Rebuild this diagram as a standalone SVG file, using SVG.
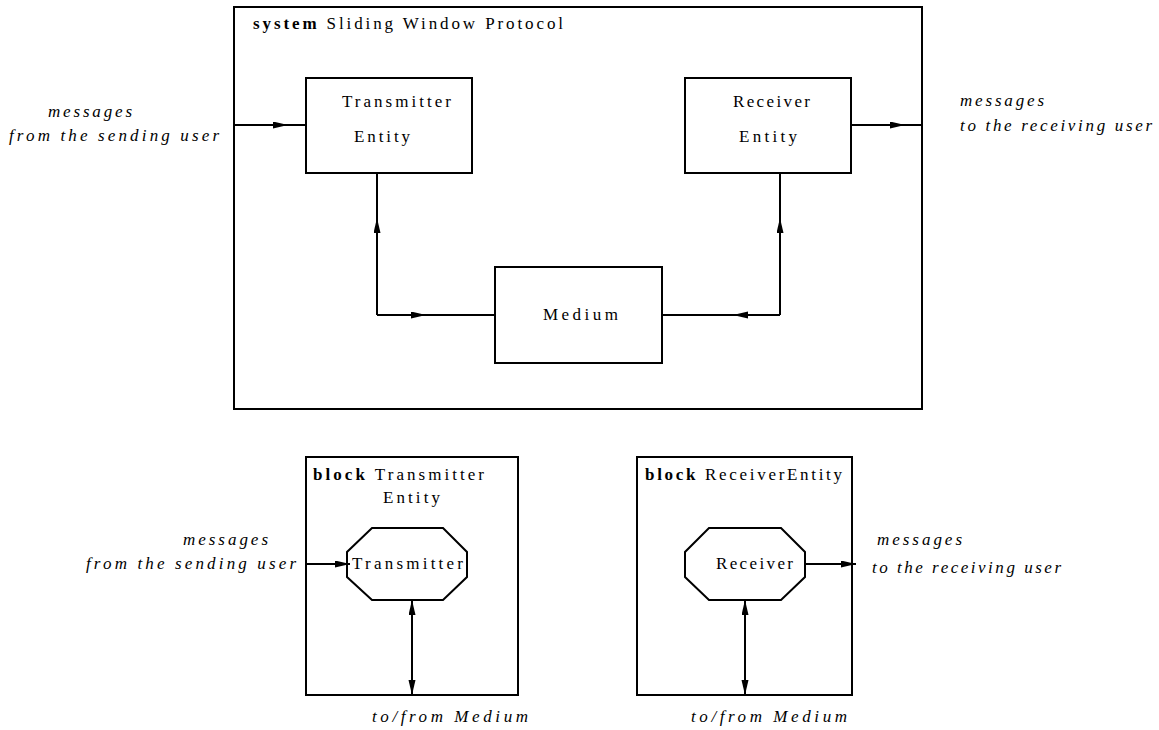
<svg xmlns="http://www.w3.org/2000/svg" width="1159" height="730" viewBox="0 0 1159 730">
<style>
.box{fill:#fff;stroke:#000;stroke-width:2}
.ln{fill:none;stroke:#000;stroke-width:2}
.t{font-family:"Liberation Serif","DejaVu Serif",serif;font-size:17px;fill:#000}
.i{font-style:italic}
.b{font-weight:bold}
</style>
<defs>
<marker id="ah" markerUnits="userSpaceOnUse" markerWidth="16" markerHeight="8" refX="15" refY="3.5" orient="auto-start-reverse">
<path d="M0,0 L15,3.5 L0,7 Z" fill="#000"/>
</marker>
</defs>
<rect width="1159" height="730" fill="#fff"/>

<g id="system">
<rect class="box" x="234" y="7" width="688" height="402"/>
<text class="t" x="253" y="29" textLength="310" lengthAdjust="spacing"><tspan class="b">system</tspan> Sliding Window Protocol</text>
</g>

<g id="transmitter-entity">
<rect class="box" x="306" y="78" width="166" height="95"/>
<text class="t" x="342" y="107" textLength="109" lengthAdjust="spacing">Transmitter</text>
<text class="t" x="354" y="142" textLength="56" lengthAdjust="spacing">Entity</text>
</g>

<g id="receiver-entity">
<rect class="box" x="685" y="78" width="166" height="95"/>
<text class="t" x="733" y="107" textLength="77" lengthAdjust="spacing">Receiver</text>
<text class="t" x="739" y="142" textLength="58" lengthAdjust="spacing">Entity</text>
</g>

<g id="medium">
<rect class="box" x="495" y="267" width="167" height="96"/>
<text class="t" x="543" y="320" textLength="75" lengthAdjust="spacing">Medium</text>
</g>

<g id="block-transmitter">
<rect class="box" x="306" y="457" width="212" height="238"/>
<text class="t" x="313" y="480" textLength="171" lengthAdjust="spacing"><tspan class="b">block</tspan> Transmitter</text>
<text class="t" x="383" y="503" textLength="57" lengthAdjust="spacing">Entity</text>
</g>

<g id="transmitter">
<polygon class="box" points="372,528 443,528 467,552 467,577 443,600 372,600 347,577 347,552"/>
<text class="t" x="352" y="569" textLength="111" lengthAdjust="spacing">Transmitter</text>
</g>

<g id="block-receiver">
<rect class="box" x="637" y="457" width="215" height="238"/>
<text class="t" x="645" y="480" textLength="197" lengthAdjust="spacing"><tspan class="b">block</tspan> ReceiverEntity</text>
</g>

<g id="receiver">
<polygon class="box" points="709,528 781,528 805,552 805,577 781,600 709,600 685,577 685,552"/>
<text class="t" x="716" y="569" textLength="77" lengthAdjust="spacing">Receiver</text>
</g>

<g id="labels">
<text class="t i" x="48" y="117" textLength="84" lengthAdjust="spacing">messages</text>
<text class="t i" x="9" y="141" textLength="210" lengthAdjust="spacing">from the sending user</text>
<text class="t i" x="960" y="106" textLength="84" lengthAdjust="spacing">messages</text>
<text class="t i" x="960" y="131" textLength="192" lengthAdjust="spacing">to the receiving user</text>
<text class="t i" x="183" y="545" textLength="85" lengthAdjust="spacing">messages</text>
<text class="t i" x="86" y="569" textLength="210" lengthAdjust="spacing">from the sending user</text>
<text class="t i" x="877" y="545" textLength="85" lengthAdjust="spacing">messages</text>
<text class="t i" x="872" y="573" textLength="189" lengthAdjust="spacing">to the receiving user</text>
<text class="t i" x="372" y="722" textLength="156" lengthAdjust="spacing">to/from Medium</text>
<text class="t i" x="691" y="722" textLength="156" lengthAdjust="spacing">to/from Medium</text>
</g>

<g id="connectors">
<line class="ln" x1="234" y1="125" x2="288" y2="125" marker-end="url(#ah)"/>
<line class="ln" x1="288" y1="125" x2="306" y2="125"/>
<line class="ln" x1="851" y1="125" x2="905" y2="125" marker-end="url(#ah)"/>
<line class="ln" x1="905" y1="125" x2="922" y2="125"/>
<line class="ln" x1="377" y1="315" x2="377" y2="218" marker-end="url(#ah)"/>
<line class="ln" x1="377" y1="218" x2="377" y2="173"/>
<line class="ln" x1="377" y1="315" x2="426" y2="315" marker-end="url(#ah)"/>
<line class="ln" x1="426" y1="315" x2="495" y2="315"/>
<line class="ln" x1="780" y1="315" x2="780" y2="218" marker-end="url(#ah)"/>
<line class="ln" x1="780" y1="218" x2="780" y2="173"/>
<line class="ln" x1="780" y1="315" x2="733" y2="315" marker-end="url(#ah)"/>
<line class="ln" x1="733" y1="315" x2="662" y2="315"/>
<line class="ln" x1="306" y1="564" x2="350" y2="564" marker-end="url(#ah)"/>
<line class="ln" x1="412" y1="600" x2="412" y2="695" marker-start="url(#ah)" marker-end="url(#ah)"/>
<line class="ln" x1="805" y1="564" x2="856" y2="564" marker-end="url(#ah)"/>
<line class="ln" x1="745" y1="600" x2="745" y2="695" marker-start="url(#ah)" marker-end="url(#ah)"/>
</g>
</svg>
